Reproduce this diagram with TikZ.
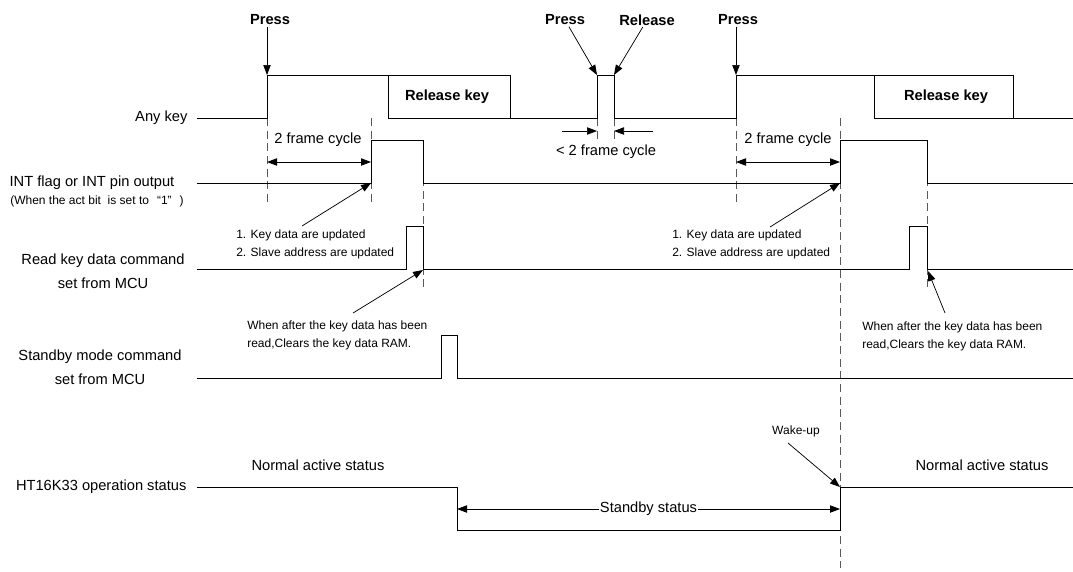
\documentclass[tikz,border=0pt]{standalone}
\usepackage{fontspec}
\setmainfont{Liberation Sans}
\usetikzlibrary{arrows.meta,positioning}
\tikzset{
  signal/.style={line width=0.7pt},
  guide/.style={gray!70!black, line width=0.7pt, dash pattern=on 6pt off 3.5pt},
  pointer/.style={line width=0.55pt, -{Triangle[length=7.5pt,width=5.5pt]}},
  span/.style={line width=0.6pt, {Triangle[length=7.5pt,width=5.5pt]}-{Triangle[length=7.5pt,width=5.5pt]}},
  siglabel/.style={font=\fontsize{11}{18}\selectfont, align=center, inner sep=1pt},
  keylabel/.style={font=\fontsize{11}{13}\selectfont\bfseries, inner sep=1pt},
  note/.style={font=\fontsize{9}{13.5}\selectfont, align=left, inner sep=0pt}
}

\begin{document}
\begin{tikzpicture}[x=0.75pt,y=-0.75pt]
  \useasboundingbox (0,0) rectangle (1073,571);

  % signal names
  \node[siglabel, anchor=east] (anykey) at (189,118) {Any key};
  \node[siglabel] (intout) at (92,183) {INT flag or INT pin output};
  \node[note] (actbit) at (97,201) {(When the act bit\ \ is set to\hspace{6pt}“1”\hspace{6pt})};
  \node[siglabel] (readcmd) at (103,271) {Read key data command\\set from MCU};
  \node[siglabel] (sbycmd) at (100,367.5) {Standby mode command\\set from MCU};
  \node[siglabel, anchor=east] (status) at (188,487) {HT16K33 operation status};

  % guides
  \foreach \x/\a/\b in {267/118/203, 371/118/203, 423/140/292, 597/118/143,
                        614/118/143, 736/118/203, 840/118/568, 927/140/292}
    \draw[guide] (\x,\a) -- (\x,\b);

  % waveforms
  \draw[signal] (197,118) -- (267,118) -- (267,75) -- (510,75) -- (510,118) -- (597,118)
    -- (597,75) -- (614,75) -- (614,118) -- (736,118) -- (736,75) -- (1013,75)
    -- (1013,118) -- (1073,118);
  \draw[signal] (388,75) rectangle (510,118);
  \draw[signal] (874,75) rectangle (1013,118);
  \node[keylabel] (release1) at (447,96.5) {Release key};
  \node[keylabel] (release2) at (946,96.5) {Release key};

  \draw[signal] (197,183) -- (371,183) -- (371,140) -- (423,140) -- (423,183) -- (840,183)
    -- (840,140) -- (927,140) -- (927,183) -- (1073,183);
  \draw[signal] (197,269.5) -- (406,269.5) -- (406,226.5) -- (423,226.5) -- (423,269.5)
    -- (909,269.5) -- (909,226.5) -- (927,226.5) -- (927,269.5) -- (1073,269.5);
  \draw[signal] (197,378) -- (441,378) -- (441,335) -- (457,335) -- (457,378) -- (1073,378);
  \draw[signal] (197,487) -- (457,487) -- (457,530) -- (840,530) -- (840,487) -- (1073,487);

  % key events
  \coordinate (edge1) at (267,75);
  \coordinate (edge2) at (597,75);
  \coordinate (edge3) at (614,75);
  \coordinate (edge4) at (736,75);
  \node[keylabel] (press1) at (270,20) {Press};
  \node[keylabel] (press2) at (565,20) {Press};
  \node[keylabel] (release) at (647,20) {Release};
  \node[keylabel] (press3) at (738,20) {Press};
  \draw[pointer] (press1.south -| edge1) -- (edge1);
  \draw[pointer] (press2) -- (edge2);
  \draw[pointer] (release) -- (edge3);
  \draw[pointer] (press3.south -| edge4) -- (edge4);

  % frame cycles
  \coordinate (fc1a) at (267,162);
  \coordinate (fc1b) at (371,162);
  \coordinate (fc2a) at (736,162);
  \coordinate (fc2b) at (840,162);
  \draw[span] (fc1a) -- (fc1b);
  \draw[span] (fc2a) -- (fc2b);
  \node[siglabel] (cycle1) at (318,140) {2 frame cycle};
  \node[siglabel] (cycle2) at (788,140) {2 frame cycle};
  \coordinate (gl) at (562,131);
  \coordinate (gr) at (653,131);
  \draw[pointer] (gl) -- (597,131);
  \draw[pointer] (gr) -- (614,131);
  \node[siglabel] (short) at (606,152) {< 2 frame cycle};

  % notes
  \node[note, anchor=west] (upd1) at (236,244) {1. Key data are updated\\2. Slave address are updated};
  \node[note, anchor=west] (upd2) at (672,244) {1. Key data are updated\\2. Slave address are updated};
  \coordinate (upd1t) at (302,226);
  \coordinate (upd2t) at (770,227);
  \draw[pointer] (upd1t) -- (371,183);
  \draw[pointer] (upd2t) -- (840,183);

  \node[note, anchor=west] (clr1) at (247,335.5) {When after the key data has been\\read,Clears the key data RAM.};
  \node[note, anchor=west] (clr2) at (862,336) {When after the key data has been\\read,Clears the key data RAM.};
  \coordinate (clr1t) at (353,313);
  \coordinate (clr2t) at (945,313);
  \draw[pointer] (clr1t) -- (423,270);
  \draw[pointer] (clr2t) -- (928,271);

  % status
  \node[siglabel] (normal1) at (318,465) {Normal active status};
  \node[siglabel] (normal2) at (982,465) {Normal active status};
  \coordinate (sb1) at (457,509);
  \coordinate (sb2) at (840,509);
  \draw[span] (sb1) -- node[siglabel, fill=white] (sbytxt) {Standby status} (sb2);
  \node[note] (wake) at (796,431) {Wake-up};
  \coordinate (waket) at (788,443);
  \draw[pointer] (waket) -- (840,487);
\end{tikzpicture}
\end{document}
